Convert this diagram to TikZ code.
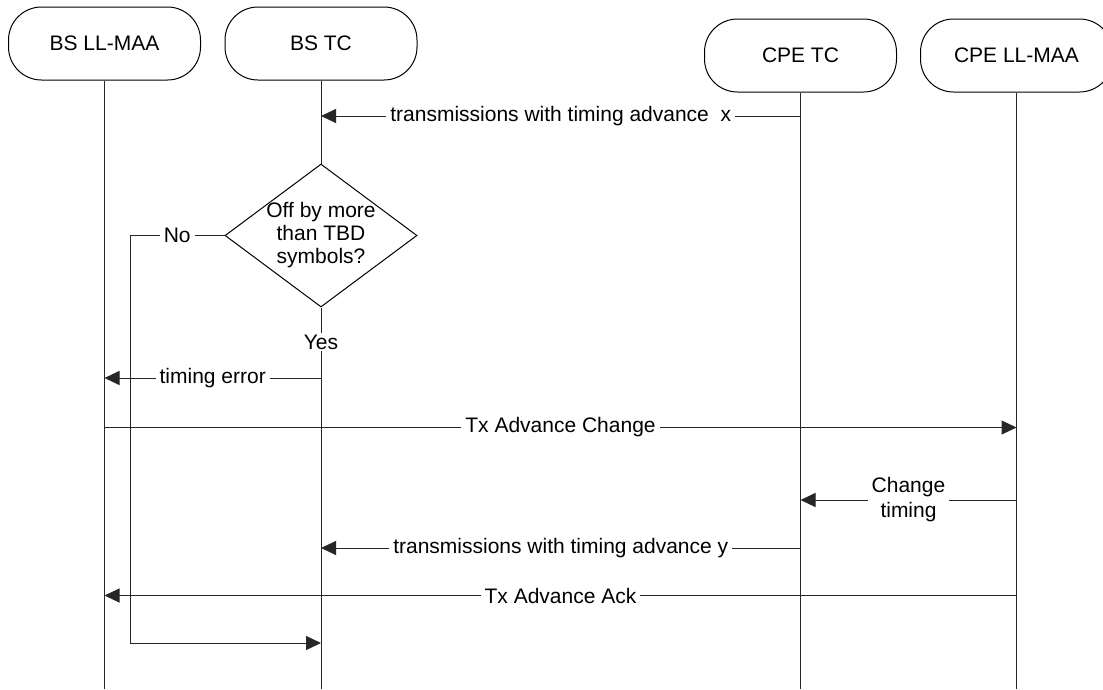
\documentclass[tikz,border=0pt]{standalone}
\usepackage{fontspec}
\setmainfont{Liberation Sans}
\usetikzlibrary{arrows.meta,shapes.geometric}
\begin{document}
\begin{tikzpicture}[x=1pt,y=-1pt,
  every node/.style={font=\fontsize{21}{23}\selectfont},
  head/.style={draw, rounded corners=33pt, minimum width=192pt, minimum height=73pt, inner sep=0pt, line width=1pt},
  life/.style={line width=1pt, draw=black!85},
  msg/.style={line width=1pt, draw=black!85, -{Triangle[length=15pt,width=14pt]}},
  lbl/.style={fill=white, inner xsep=4pt, inner ysep=1pt},
  decision/.style={draw, diamond, minimum width=192pt, minimum height=143pt, inner sep=0pt, line width=1pt},
]
\useasboundingbox (0,0) rectangle (1103,689);
\clip (0,0) rectangle (1103,689);

% heads
\node[head] (bsmaa)  at (104.5,43.5) {BS LL-MAA};
\node[head] (bstc)   at (321,43.5)   {BS TC};
\node[head] (cpetc)  at (800.5,55.5) {CPE TC};
\node[head] (cpemaa) at (1016.5,55.5) {CPE LL-MAA};

% lifeline ends
\coordinate (bsmaaE)  at (104.5,689);
\coordinate (bstcE)   at (321,689);
\coordinate (cpetcE)  at (800.5,689);
\coordinate (cpemaaE) at (1016.5,689);

% decision
\node[decision] (dia) at (321,235.5) {};
\node[align=center, inner sep=0pt] (diatext) at (dia.center) {Off by more\\than TBD\\symbols?};
\node[lbl] (yes) at (321,342) {Yes};

% lifelines
\draw[life] (bsmaa.south) -- (bsmaaE);
\draw[life] (bstc.south) -- (dia.north);
\draw[life] (dia.south) -- (yes);
\draw[life] (yes) -- (bstcE);
\draw[life] (cpetc.south) -- (cpetcE);
\draw[life] (cpemaa.south) -- (cpemaaE);

% message end points
\coordinate (m1s) at (800.5,116);   \coordinate (m1e) at (321,116);
\coordinate (tes) at (321,378);     \coordinate (tee) at (104.5,378);
\coordinate (tcs) at (104.5,427.5); \coordinate (tce) at (1016.5,427.5);
\coordinate (cts) at (1016.5,500);  \coordinate (cte) at (800.5,500);
\coordinate (m2s) at (800.5,548);   \coordinate (m2e) at (321,548);
\coordinate (aks) at (1016.5,595.5);\coordinate (ake) at (104.5,595.5);
\coordinate (noc) at (130,235.5);
\coordinate (nob) at (130,643);     \coordinate (noe) at (321,643);

% messages
\draw[msg] (m1s) -- node[lbl] {transmissions with timing advance\ \ x} (m1e);
\draw[msg] (tes) -- node[lbl] {timing error} (tee);
\draw[msg] (tcs) -- node[lbl] {Tx Advance Change} (tce);
\draw[msg] (cts) -- node[lbl, align=center, font=\fontsize{21}{25}\selectfont] {Change\\timing} (cte);
\draw[msg] (m2s) -- node[lbl] {transmissions with timing advance y} (m2e);
\draw[msg] (aks) -- node[lbl] {Tx Advance Ack} (ake);
\draw[msg] (dia.west) -- node[lbl] {No} (noc) -- (nob) -- (noe);
\end{tikzpicture}
\end{document}
